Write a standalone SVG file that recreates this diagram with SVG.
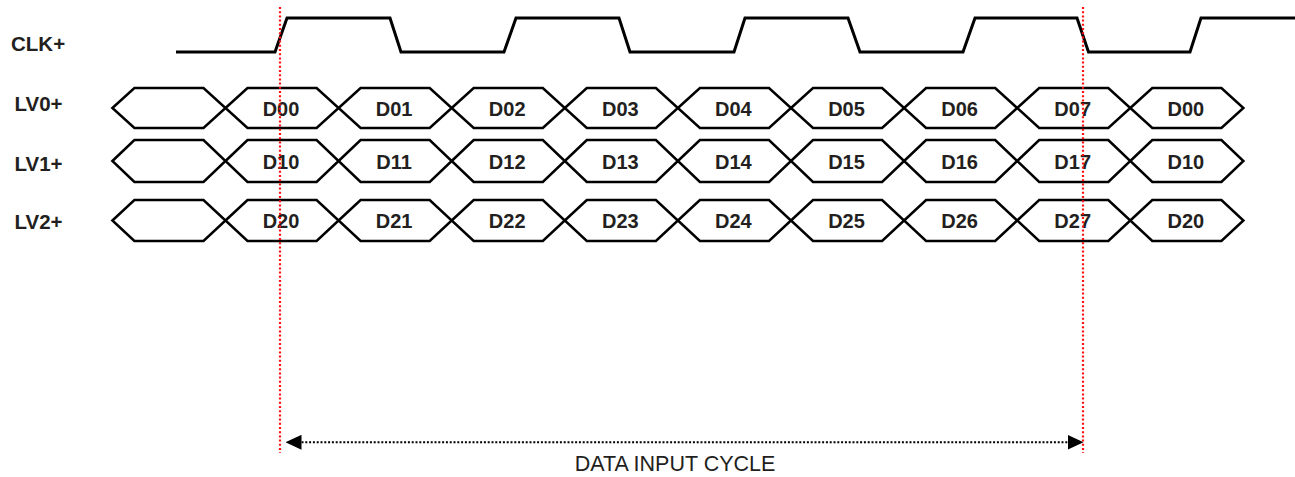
<svg xmlns="http://www.w3.org/2000/svg" width="1295" height="477" viewBox="0 0 1295 477">
<style>
  .lbl{font-family:"Liberation Sans",Arial,sans-serif;font-weight:bold;font-size:20.5px;fill:#231f20}
  .dt{font-family:"Liberation Sans",Arial,sans-serif;font-weight:bold;font-size:20px;fill:#231f20;text-anchor:middle}
  .cap{font-family:"Liberation Sans",Arial,sans-serif;font-size:21.5px;fill:#231f20;text-anchor:middle}
  .hex{fill:none;stroke:#000;stroke-width:2.5;stroke-linejoin:miter}
  .clk{fill:none;stroke:#000;stroke-width:3;stroke-linejoin:miter}
  .red{stroke:#ff1010;stroke-width:2.2;stroke-dasharray:2 2.2;fill:none}
  .arr{stroke:#000;stroke-width:2;stroke-dasharray:2 1.8;fill:none}
</style>
<defs>
  <marker id="ah" markerUnits="userSpaceOnUse" markerWidth="16" markerHeight="15" refX="0" refY="7.5" orient="auto-start-reverse">
    <path d="M0,0 L16,7.5 L0,15 Z" fill="#000"/>
  </marker>
</defs>
<rect width="1295" height="477" fill="#fff"/>

<g id="labels">
  <text class="lbl" x="11" y="51">CLK+</text>
  <text class="lbl" x="14.5" y="111">LV0+</text>
  <text class="lbl" x="14.5" y="171">LV1+</text>
  <text class="lbl" x="14.5" y="229">LV2+</text>
</g>

<g id="clk">
  <path class="clk" d="M176,52 H275 L287,18 H390 L401,52 H504 L516,18 H619 L630,52 H734 L745,18 H848 L860,52 H963 L975,18 H1077 L1088.5,52 H1190 L1201,18 H1295"/>
</g>

<g id="lv0">
  <g id="lv0-c0"><polygon class="hex" points="112.4,108 134.4,88 203.5,88 225.5,108 203.5,128 134.4,128"/></g>
  <g id="lv0-c1"><polygon class="hex" points="225.5,108 247.5,88 316.6,88 338.6,108 316.6,128 247.5,128"/><text class="dt" x="281" y="115.5">D00</text></g>
  <g id="lv0-c2"><polygon class="hex" points="338.6,108 360.6,88 429.7,88 451.7,108 429.7,128 360.6,128"/><text class="dt" x="394.1" y="115.5">D01</text></g>
  <g id="lv0-c3"><polygon class="hex" points="451.7,108 473.7,88 542.8,88 564.8,108 542.8,128 473.7,128"/><text class="dt" x="507.2" y="115.5">D02</text></g>
  <g id="lv0-c4"><polygon class="hex" points="564.8,108 586.8,88 655.9,88 677.9,108 655.9,128 586.8,128"/><text class="dt" x="620.3" y="115.5">D03</text></g>
  <g id="lv0-c5"><polygon class="hex" points="677.9,108 699.9,88 769,88 791,108 769,128 699.9,128"/><text class="dt" x="733.4" y="115.5">D04</text></g>
  <g id="lv0-c6"><polygon class="hex" points="791,108 813,88 882.1,88 904.1,108 882.1,128 813,128"/><text class="dt" x="846.5" y="115.5">D05</text></g>
  <g id="lv0-c7"><polygon class="hex" points="904.1,108 926.1,88 995.2,88 1017.2,108 995.2,128 926.1,128"/><text class="dt" x="959.6" y="115.5">D06</text></g>
  <g id="lv0-c8"><polygon class="hex" points="1017.2,108 1039.2,88 1108.3,88 1130.3,108 1108.3,128 1039.2,128"/><text class="dt" x="1072.7" y="115.5">D07</text></g>
  <g id="lv0-c9"><polygon class="hex" points="1130.3,108 1152.3,88 1221.4,88 1243.4,108 1221.4,128 1152.3,128"/><text class="dt" x="1185.8" y="115.5">D00</text></g>
</g>

<g id="lv1">
  <g id="lv1-c0"><polygon class="hex" points="112.4,161 134.4,140 203.5,140 225.5,161 203.5,182 134.4,182"/></g>
  <g id="lv1-c1"><polygon class="hex" points="225.5,161 247.5,140 316.6,140 338.6,161 316.6,182 247.5,182"/><text class="dt" x="281" y="168.5">D10</text></g>
  <g id="lv1-c2"><polygon class="hex" points="338.6,161 360.6,140 429.7,140 451.7,161 429.7,182 360.6,182"/><text class="dt" x="394.1" y="168.5">D11</text></g>
  <g id="lv1-c3"><polygon class="hex" points="451.7,161 473.7,140 542.8,140 564.8,161 542.8,182 473.7,182"/><text class="dt" x="507.2" y="168.5">D12</text></g>
  <g id="lv1-c4"><polygon class="hex" points="564.8,161 586.8,140 655.9,140 677.9,161 655.9,182 586.8,182"/><text class="dt" x="620.3" y="168.5">D13</text></g>
  <g id="lv1-c5"><polygon class="hex" points="677.9,161 699.9,140 769,140 791,161 769,182 699.9,182"/><text class="dt" x="733.4" y="168.5">D14</text></g>
  <g id="lv1-c6"><polygon class="hex" points="791,161 813,140 882.1,140 904.1,161 882.1,182 813,182"/><text class="dt" x="846.5" y="168.5">D15</text></g>
  <g id="lv1-c7"><polygon class="hex" points="904.1,161 926.1,140 995.2,140 1017.2,161 995.2,182 926.1,182"/><text class="dt" x="959.6" y="168.5">D16</text></g>
  <g id="lv1-c8"><polygon class="hex" points="1017.2,161 1039.2,140 1108.3,140 1130.3,161 1108.3,182 1039.2,182"/><text class="dt" x="1072.7" y="168.5">D17</text></g>
  <g id="lv1-c9"><polygon class="hex" points="1130.3,161 1152.3,140 1221.4,140 1243.4,161 1221.4,182 1152.3,182"/><text class="dt" x="1185.8" y="168.5">D10</text></g>
</g>

<g id="lv2">
  <g id="lv2-c0"><polygon class="hex" points="112.4,220.5 134.4,200 203.5,200 225.5,220.5 203.5,241 134.4,241"/></g>
  <g id="lv2-c1"><polygon class="hex" points="225.5,220.5 247.5,200 316.6,200 338.6,220.5 316.6,241 247.5,241"/><text class="dt" x="281" y="228">D20</text></g>
  <g id="lv2-c2"><polygon class="hex" points="338.6,220.5 360.6,200 429.7,200 451.7,220.5 429.7,241 360.6,241"/><text class="dt" x="394.1" y="228">D21</text></g>
  <g id="lv2-c3"><polygon class="hex" points="451.7,220.5 473.7,200 542.8,200 564.8,220.5 542.8,241 473.7,241"/><text class="dt" x="507.2" y="228">D22</text></g>
  <g id="lv2-c4"><polygon class="hex" points="564.8,220.5 586.8,200 655.9,200 677.9,220.5 655.9,241 586.8,241"/><text class="dt" x="620.3" y="228">D23</text></g>
  <g id="lv2-c5"><polygon class="hex" points="677.9,220.5 699.9,200 769,200 791,220.5 769,241 699.9,241"/><text class="dt" x="733.4" y="228">D24</text></g>
  <g id="lv2-c6"><polygon class="hex" points="791,220.5 813,200 882.1,200 904.1,220.5 882.1,241 813,241"/><text class="dt" x="846.5" y="228">D25</text></g>
  <g id="lv2-c7"><polygon class="hex" points="904.1,220.5 926.1,200 995.2,200 1017.2,220.5 995.2,241 926.1,241"/><text class="dt" x="959.6" y="228">D26</text></g>
  <g id="lv2-c8"><polygon class="hex" points="1017.2,220.5 1039.2,200 1108.3,200 1130.3,220.5 1108.3,241 1039.2,241"/><text class="dt" x="1072.7" y="228">D27</text></g>
  <g id="lv2-c9"><polygon class="hex" points="1130.3,220.5 1152.3,200 1221.4,200 1243.4,220.5 1221.4,241 1152.3,241"/><text class="dt" x="1185.8" y="228">D20</text></g>
</g>

<g id="connectors">
  <line class="red" x1="280" y1="7" x2="280" y2="453"/>
  <line class="red" x1="1083" y1="7" x2="1083" y2="453"/>
  <line class="arr" x1="301.5" y1="442.3" x2="1067.5" y2="442.3" marker-start="url(#ah)" marker-end="url(#ah)"/>
</g>

<g id="caption">
  <text class="cap" x="675" y="471">DATA INPUT CYCLE</text>
</g>
</svg>
